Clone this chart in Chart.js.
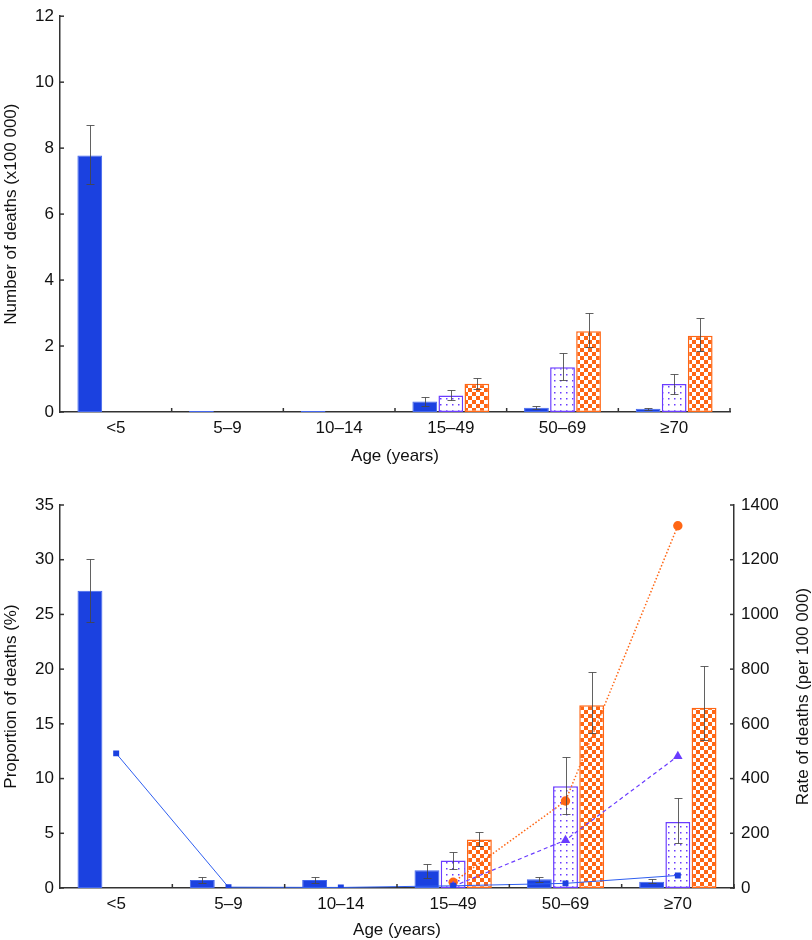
<!DOCTYPE html>
<html>
<head>
<meta charset="utf-8">
<script src="https://cdn.jsdelivr.net/npm/chart.js@4.4.1/dist/chart.umd.min.js"></script>
<style>
html,body{margin:0;padding:0;background:#fff;}
#wrap{position:relative;width:812px;height:940px;overflow:hidden;}
canvas{position:absolute;left:0;}
#c1{top:0;}
#c2{top:470px;}
</style>
</head>
<body>
<div id="wrap">
<canvas id="c1" width="812" height="470"></canvas>
<canvas id="c2" width="812" height="470"></canvas>
</div>
<script>
// ---------- data ----------
const categories = ['<5', '5–9', '10–14', '15–49', '50–69', '≥70'];

// Top panel: number of deaths (x100 000)
const blueCount      = [7.78, 0.03, 0.03, 0.32, 0.13, 0.10];
const blueCountLow   = [6.90, null, null, 0.18, 0.09, 0.06];
const blueCountHigh  = [8.69, null, null, 0.44, 0.17, 0.12];
const purpleCount     = [null, null, null, 0.50, 1.36, 0.85];
const purpleCountLow  = [null, null, null, 0.35, 0.98, 0.56];
const purpleCountHigh = [null, null, null, 0.66, 1.78, 1.16];
const orangeCount     = [null, null, null, 0.86, 2.45, 2.31];
const orangeCountLow  = [null, null, null, 0.70, 1.98, 1.85];
const orangeCountHigh = [null, null, null, 1.04, 2.99, 2.86];

// Bottom panel: proportion of deaths (%)
const bluePct      = [27.17, 0.73, 0.72, 1.62, 0.79, 0.58];
const bluePctLow   = [24.3, 0.46, 0.46, 0.89, 0.55, 0.43];
const bluePctHigh  = [30.1, 0.98, 0.98, 2.20, 0.98, 0.79];
const purplePct     = [null, null, null, 2.52, 9.30, 6.04];
const purplePctLow  = [null, null, null, 1.73, 6.77, 4.09];
const purplePctHigh = [null, null, null, 3.27, 11.96, 8.20];
const orangePct     = [null, null, null, 4.43, 16.70, 16.47];
const orangePctLow  = [null, null, null, 3.84, 14.15, 13.54];
const orangePctHigh = [null, null, null, 5.10, 19.70, 20.25];

// Bottom panel: rate of deaths (per 100 000)
const blueRate   = [492, 3, 2, 8, 17, 46];
const purpleRate = [null, null, null, 6, 175, 482];
const orangeRate = [null, null, null, 21, 318, 1324];

// Tick settings
const countTicks = {min: 0, max: 12, step: 2};
const pctTicks   = {min: 0, max: 35, step: 5};
const rateTicks  = {min: 0, max: 1400, step: 200};

// ---------- styles ----------
const FONT = "'Liberation Sans', Arial, Helvetica, sans-serif";
Chart.defaults.font.family = FONT;
Chart.defaults.font.size = 17;
Chart.defaults.color = '#111';

const BLUE = '#1b41e0', BLUE_EDGE = '#4266ee', BLUE_LINE = '#2f5ff0';
const PURPLE = '#6a3cff';
const ORANGE = '#ff6614';
const AXIS = '#333';

const tmp = document.createElement('canvas').getContext('2d');
function dotPattern() {
  const c = document.createElement('canvas'); c.width = 6; c.height = 6;
  const g = c.getContext('2d');
  g.fillStyle = '#fff'; g.fillRect(0, 0, 6, 6);
  g.fillStyle = PURPLE; g.fillRect(2, 2, 1.5, 1.5);
  return tmp.createPattern(c, 'repeat');
}
function checkerPattern() {
  const c = document.createElement('canvas'); c.width = 8; c.height = 8;
  const g = c.getContext('2d');
  g.fillStyle = '#fff'; g.fillRect(0, 0, 8, 8);
  g.fillStyle = ORANGE; g.fillRect(0, 0, 4, 4); g.fillRect(4, 4, 4, 4);
  return tmp.createPattern(c, 'repeat');
}
const DOTS = dotPattern(), CHECK = checkerPattern();

// ---------- plugins ----------
const errorBars = {
  id: 'errorBars',
  afterDatasetsDraw(chart) {
    const ctx = chart.ctx;
    ctx.save();
    ctx.strokeStyle = 'rgba(70,70,70,0.85)';
    ctx.lineWidth = 1;
    chart.data.datasets.forEach((ds, i) => {
      if (!ds.errLow) return;
      const meta = chart.getDatasetMeta(i);
      const ys = chart.scales[meta.yAxisID];
      meta.data.forEach((el, j) => {
        const lo = ds.errLow[j], hi = ds.errHigh[j];
        if (lo == null || hi == null || ds.data[j] == null) return;
        const x = Math.round(el.x) + 0.5;
        const y1 = Math.round(ys.getPixelForValue(lo)) + 0.5;
        const y2 = Math.round(ys.getPixelForValue(hi)) + 0.5;
        ctx.beginPath();
        ctx.moveTo(x, y1); ctx.lineTo(x, y2);
        ctx.moveTo(x - 4, y1); ctx.lineTo(x + 4, y1);
        ctx.moveTo(x - 4, y2); ctx.lineTo(x + 4, y2);
        ctx.stroke();
      });
    });
    ctx.restore();
  }
};

const inwardTicks = {
  id: 'inwardTicks',
  afterDraw(chart) {
    const ctx = chart.ctx, ca = chart.chartArea;
    ctx.save();
    ctx.strokeStyle = AXIS; ctx.lineWidth = 1.5;
    const seg = (x1, y1, x2, y2) => { ctx.beginPath(); ctx.moveTo(x1, y1); ctx.lineTo(x2, y2); ctx.stroke(); };
    const y = chart.scales.y;
    y.ticks.forEach(t => { const py = y.getPixelForValue(t.value); seg(ca.left, py, ca.left + 4, py); });
    if (chart.scales.y1) {
      const y1 = chart.scales.y1;
      y1.ticks.forEach(t => { const py = y1.getPixelForValue(t.value); seg(ca.right - 4, py, ca.right, py); });
    }
    const n = chart.data.labels.length, w = (ca.right - ca.left) / n;
    for (let i = 1; i <= n; i++) { const px = ca.left + i * w; seg(px, ca.bottom, px, ca.bottom - 4); }
    ctx.restore();
  }
};

const axisTitles = {
  id: 'axisTitles',
  afterDraw(chart, args, opts) {
    const ctx = chart.ctx, ca = chart.chartArea;
    (opts.items || []).forEach(it => {
      ctx.save();
      const x = it.anchor === 'right' ? ca.right + it.dx : (ca.left + ca.right) / 2;
      const y = it.anchor === 'right' ? (ca.top + ca.bottom) / 2 : ca.bottom + it.dy;
      ctx.translate(x, y);
      ctx.rotate(it.rot || 0);
      ctx.font = '17px ' + FONT;
      ctx.fillStyle = '#111';
      ctx.textAlign = 'center';
      ctx.textBaseline = 'middle';
      ctx.fillText(it.text, 0, 0);
      ctx.restore();
    });
  }
};

function barSet(label, data, lo, hi, fill, edge, bw, yID) {
  return {type: 'bar', label, data, errLow: lo, errHigh: hi, backgroundColor: fill,
    borderColor: edge, borderWidth: bw, borderSkipped: false, yAxisID: yID || 'y', order: 1,
    categoryPercentage: 0.7, barPercentage: 0.95};
}

const xScale = (h, pad) => ({
  grid: {display: false, drawTicks: false},
  border: {display: true, color: AXIS, width: 1.5},
  ticks: {padding: pad, color: '#111', font: {size: 17}, maxRotation: 0, autoSkip: false},
  afterFit(s) { s.height = h; }
});
const yScale = (t, title, w, pos, pad) => ({
  position: pos, min: t.min, max: t.max,
  grid: {display: false, drawTicks: false},
  border: {display: true, color: AXIS, width: 1.5},
  ticks: {stepSize: t.step, padding: pad, color: '#111', font: {size: 17}, callback: v => String(v)},
  title: title ? {display: true, text: title, color: '#111', font: {size: 17}, padding: {top: 1, bottom: 0}} : {display: false},
  afterFit(s) { s.width = w; }
});

// ---------- top chart ----------
new Chart(document.getElementById('c1'), {
  type: 'bar',
  data: {
    labels: categories,
    datasets: [
      barSet('Blue', blueCount, blueCountLow, blueCountHigh, BLUE, BLUE_EDGE, 1),
      barSet('Purple', purpleCount, purpleCountLow, purpleCountHigh, DOTS, PURPLE, 1.5),
      barSet('Orange', orangeCount, orangeCountLow, orangeCountHigh, CHECK, ORANGE, 1.5)
    ]
  },
  options: {
    responsive: false, animation: false, devicePixelRatio: 1,
    layout: {padding: {top: 9, right: 82, bottom: 0, left: 0}},
    plugins: {legend: {display: false}, tooltip: {enabled: false},
      axisTitles: {items: [{text: 'Age (years)', dy: 44}]}},
    scales: {
      x: xScale(58, 6),
      y: yScale(countTicks, 'Number of deaths (x100 000)', 60, 'left', 6)
    }
  },
  plugins: [errorBars, inwardTicks, axisTitles]
});

// ---------- bottom chart ----------
new Chart(document.getElementById('c2'), {
  type: 'bar',
  data: {
    labels: categories,
    datasets: [
      {type: 'line', label: 'Blue rate', data: blueRate, yAxisID: 'y1', order: 0,
       borderColor: BLUE_LINE, borderWidth: 1, tension: 0, fill: false,
       pointStyle: 'rect', pointRadius: 4.2, pointBackgroundColor: BLUE, pointBorderColor: BLUE, pointBorderWidth: 0},
      {type: 'line', label: 'Purple rate', data: purpleRate, yAxisID: 'y1', order: 0,
       borderColor: PURPLE, borderWidth: 1.2, borderDash: [4, 3], tension: 0, fill: false,
       pointStyle: 'triangle', pointRadius: 5.5, pointBackgroundColor: PURPLE, pointBorderColor: PURPLE, pointBorderWidth: 0},
      {type: 'line', label: 'Orange rate', data: orangeRate, yAxisID: 'y1', order: 0,
       borderColor: ORANGE, borderWidth: 1.5, borderDash: [1.5, 2], tension: 0, fill: false,
       pointStyle: 'circle', pointRadius: 4.7, pointBackgroundColor: ORANGE, pointBorderColor: ORANGE, pointBorderWidth: 0},
      barSet('Blue', bluePct, bluePctLow, bluePctHigh, BLUE, BLUE_EDGE, 1),
      barSet('Purple', purplePct, purplePctLow, purplePctHigh, DOTS, PURPLE, 1.5),
      barSet('Orange', orangePct, orangePctLow, orangePctHigh, CHECK, ORANGE, 1.5)
    ]
  },
  options: {
    responsive: false, animation: false, devicePixelRatio: 1,
    layout: {padding: {top: 35, right: 0, bottom: 0, left: 0}},
    plugins: {legend: {display: false}, tooltip: {enabled: false},
      axisTitles: {items: [
        {text: 'Age (years)', dy: 42},
        {text: 'Rate of deaths (per 100 000)', anchor: 'right', dx: 69, rot: -Math.PI / 2}
      ]}},
    scales: {
      x: xScale(52, 6),
      y: yScale(pctTicks, 'Proportion of deaths (%)', 60, 'left', 6),
      y1: yScale(rateTicks, null, 78, 'right', 7)
    }
  },
  plugins: [errorBars, inwardTicks, axisTitles]
});
</script>
</body>
</html>
